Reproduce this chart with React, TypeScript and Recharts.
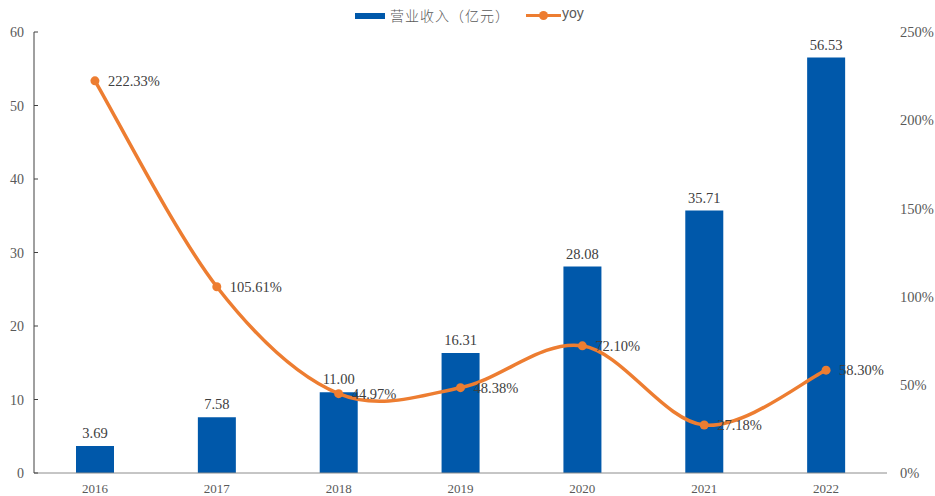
import React from 'react';
import { ComposedChart, Bar, Line, XAxis, YAxis, Legend, LabelList } from 'recharts';

const years = ['2016', '2017', '2018', '2019', '2020', '2021', '2022'];
const revenue = [3.69, 7.58, 11.0, 16.31, 28.08, 35.71, 56.53];
const yoy = [222.33, 105.61, 44.97, 48.38, 72.1, 27.18, 58.3];
const leftTicks = [0, 10, 20, 30, 40, 50, 60];
const rightTicks = [0, 50, 100, 150, 200, 250];

const BLUE = '#0058AA';
const ORANGE = '#ED7D31';
const SERIF = '"Liberation Serif", "Times New Roman", serif';

const data = years.map((y, i) => ({ year: y, revenue: revenue[i], yoy: yoy[i] }));

// Excel-style smoothed line (Catmull-Rom through the points)
const smoothCurve = (context: any) => {
  let pts: number[][] = [];
  return {
    areaStart() {},
    areaEnd() {},
    lineStart() {
      pts = [];
    },
    point(x: number, y: number) {
      pts.push([+x, +y]);
    },
    lineEnd() {
      if (!pts.length) return;
      context.moveTo(pts[0][0], pts[0][1]);
      const t = 1 / 6;
      for (let i = 0; i < pts.length - 1; i++) {
        const p0 = pts[i - 1] || pts[i];
        const p1 = pts[i];
        const p2 = pts[i + 1];
        const p3 = pts[i + 2] || p2;
        context.bezierCurveTo(
          p1[0] + (p2[0] - p0[0]) * t,
          p1[1] + (p2[1] - p0[1]) * t,
          p2[0] - (p3[0] - p1[0]) * t,
          p2[1] - (p3[1] - p1[1]) * t,
          p2[0],
          p2[1]
        );
      }
    },
  };
};

const LeftTick = ({ x, y, payload }: any) => (
  <g>
    <line x1={x + 10} x2={x + 14} y1={y} y2={y} stroke="#404040" />
    <text x={x} y={y} dy={5} textAnchor="end" fill="#595959" fontSize={14} fontFamily={SERIF}>
      {payload.value}
    </text>
  </g>
);

const LegendContent = () => (
  <div style={{ position: 'relative', width: 935, height: 32, fontSize: 14, color: '#595959' }}>
    <div style={{ position: 'absolute', left: 355, top: 13, width: 30, height: 6, background: BLUE }} />
    <span style={{ position: 'absolute', left: 390, top: 5, fontFamily: '"Noto Sans CJK SC", sans-serif', fontWeight: 300, letterSpacing: 1 }}>
      营业收入（亿元）
    </span>
    <div style={{ position: 'absolute', left: 526, top: 14, width: 35, height: 3, background: ORANGE }} />
    <div style={{ position: 'absolute', left: 539, top: 11, width: 9, height: 9, borderRadius: 5, background: ORANGE }} />
    <span style={{ position: 'absolute', left: 562, top: 5, fontFamily: '"Liberation Sans", sans-serif' }}>yoy</span>
  </div>
);

export default function App() {
  return (
    <div style={{ position: 'absolute', left: 0, top: 0, width: 935, height: 496, background: '#fff' }}>
      <ComposedChart width={935} height={496} data={data} margin={{ top: 0, right: 0, bottom: 0, left: 0 }}>
        <Legend verticalAlign="top" align="left" content={<LegendContent />} wrapperStyle={{ left: 0, top: 0 }} />
        <XAxis
          dataKey="year"
          height={23}
          axisLine={{ stroke: '#8c8c8c' }}
          tickLine={false}
          tickMargin={5}
          tick={{ fill: '#595959', fontSize: 13, fontFamily: SERIF }}
        />
        <YAxis
          yAxisId="left"
          width={34}
          domain={[0, 60]}
          ticks={leftTicks}
          axisLine={{ stroke: '#404040' }}
          tickLine={false}
          tickSize={0}
          tickMargin={10}
          tick={<LeftTick />}
        />
        <YAxis
          yAxisId="right"
          orientation="right"
          width={48}
          domain={[0, 250]}
          ticks={rightTicks}
          axisLine={false}
          tickLine={false}
          tickSize={0}
          tickMargin={13}
          tickFormatter={(v: number) => `${v}%`}
          tick={{ fill: '#595959', fontSize: 14.5, fontFamily: SERIF, textAnchor: 'start' }}
        />
        <Bar yAxisId="left" dataKey="revenue" fill={BLUE} barSize={38} isAnimationActive={false}>
          <LabelList
            dataKey="revenue"
            position="top"
            offset={8}
            formatter={(v: any) => Number(v).toFixed(2)}
            style={{ fill: '#404040', fontSize: 14.5, fontFamily: SERIF }}
          />
        </Bar>
        <Line
          yAxisId="right"
          dataKey="yoy"
          type={smoothCurve as any}
          stroke={ORANGE}
          strokeWidth={3.5}
          dot={{ r: 4.5, fill: ORANGE, stroke: ORANGE, strokeWidth: 0 }}
          activeDot={false}
          isAnimationActive={false}
        >
          <LabelList
            dataKey="yoy"
            position="right"
            offset={13}
            formatter={(v: any) => `${Number(v).toFixed(2)}%`}
            style={{ fill: '#404040', fontSize: 14.5, fontFamily: SERIF }}
          />
        </Line>
      </ComposedChart>
    </div>
  );
}
